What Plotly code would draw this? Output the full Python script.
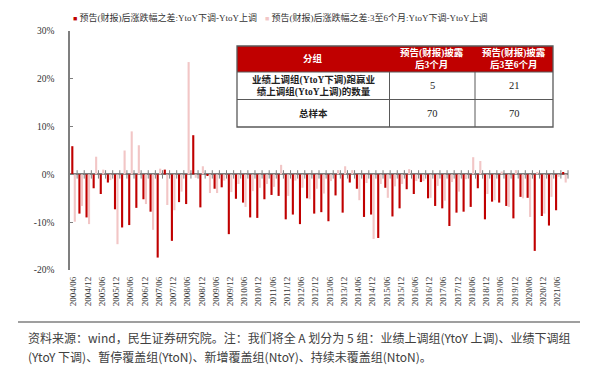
import plotly.graph_objects as go

# ---------------- data ----------------
quarters = [
    "2004/06", "2004/09", "2004/12", "2005/03", "2005/06", "2005/09", "2005/12", "2006/03",
    "2006/06", "2006/09", "2006/12", "2007/03", "2007/06", "2007/09", "2007/12", "2008/03",
    "2008/06", "2008/09", "2008/12", "2009/03", "2009/06", "2009/09", "2009/12", "2010/03",
    "2010/06", "2010/09", "2010/12", "2011/03", "2011/06", "2011/09", "2011/12", "2012/03",
    "2012/06", "2012/09", "2012/12", "2013/03", "2013/06", "2013/09", "2013/12", "2014/03",
    "2014/06", "2014/09", "2014/12", "2015/03", "2015/06", "2015/09", "2015/12", "2016/03",
    "2016/06", "2016/09", "2016/12", "2017/03", "2017/06", "2017/09", "2017/12", "2018/03",
    "2018/06", "2018/09", "2018/12", "2019/03", "2019/06", "2019/09", "2019/12", "2020/03",
    "2020/06", "2020/09", "2020/12", "2021/03", "2021/06", "2021/09",
]

# 预告(财报)后涨跌幅之差:YtoY下调-YtoY上调  (%)
diff_3m = [
    5.9, -8.2, -9.0, -2.9, -4.1, -1.7, -7.3, -11.1, -10.6, -7.0,
    -5.2, -7.8, -17.4, 1.0, -13.9, -5.8, -6.2, 8.2, -6.9, -0.2,
    -3.0, -2.7, -12.5, -5.1, -5.9, -9.0, -9.1, -5.2, -4.3, -4.5,
    -9.4, -8.4, -10.4, -5.0, -8.2, -7.9, -9.8, -4.4, -8.0, -1.7,
    -3.0, -8.9, -8.4, -13.3, -2.8, -8.8, -7.1, -3.1, -4.1, -1.6,
    -5.0, -6.6, -7.1, -10.8, -8.0, -7.8, -6.8, -2.9, -9.4, -5.7,
    -5.9, -6.6, -9.2, -4.7, -4.9, -16.0, -8.7, -10.7, -7.5, 0.5,
]

# 预告(财报)后涨跌幅之差:3至6个月:YtoY下调-YtoY上调  (%)
diff_3to6m = [
    -9.9, -6.6, -10.4, 3.7, 1.0, -1.2, -14.6, 5.0, 9.0, 6.1,
    -6.2, -11.6, 1.2, -6.4, -7.5, -3.6, 23.5, -0.7, 1.7, -3.9,
    -3.9, -1.3, -3.7, -2.0, -6.8, -3.5, -2.8, -2.0, -2.6, 2.0,
    -4.5, -1.3, -2.8, -5.2, -3.0, -4.0, -1.4, 0.9, 1.7, 0.9,
    -5.4, -1.8, -13.5, -2.0, -4.9, -2.5, -2.0, 1.1, -1.4, -1.4,
    -4.9, -2.4, -5.5, -1.6, -3.6, -1.0, 3.6, 2.8, -4.1, -5.4,
    0.6, -6.8, 0.9, -5.0, -8.9, 0.5, -8.2, -4.7, -0.5, -1.7,
]

series_names = [
    "预告(财报)后涨跌幅之差:YtoY下调-YtoY上调",
    "预告(财报)后涨跌幅之差:3至6个月:YtoY下调-YtoY上调",
]

y_tickvals = [-20, -10, 0, 10, 20, 30]
y_ticktext = ["-20%", "-10%", "0%", "10%", "20%", "30%"]

table_header = ["分组", "预告(财报)披露<br>后3个月", "预告(财报)披露<br>后3至6个月"]
table_rows = [
    ["业绩上调组(YtoY下调)跑赢业<br>绩上调组(YtoY上调)的数量", "5", "21"],
    ["总样本", "70", "70"],
]

source_lines = [
    "资料来源：wind，民生证券研究院。注：我们将全 A 划分为 5 组：业绩上调组(YtoY 上调)、业绩下调组",
    "(YtoY 下调)、暂停覆盖组(YtoN)、新增覆盖组(NtoY)、持续未覆盖组(NtoN)。",
]

# ---------------- style ----------------
DARK = "#C00000"
LIGHT = "#F2C6C6"
AXIS = "#7F7F7F"
SERIF = "Liberation Serif, Times New Roman, Noto Sans CJK SC, serif"
SANS = "Noto Sans CJK SC, Noto Sans, sans-serif"

W, H = 597, 376
L, R, T, B = 70, 29, 31, 106
PW, PH = W - L - R, H - T - B


def fx(px):
    return (px - L) / PW


def fy(py):
    return (H - B - py) / PH


x_idx = list(range(len(quarters)))

fig = go.Figure()
fig.add_bar(x=x_idx, y=diff_3m, name=series_names[0], marker_color=DARK,
            marker_line_width=0, showlegend=False)
fig.add_bar(x=x_idx, y=diff_3to6m, name=series_names[1], marker_color=LIGHT,
            marker_line_width=0, showlegend=False)

# category boundary tick marks on the zero line
bounds = [i + 0.5 for i in x_idx]
fig.add_scatter(x=bounds, y=[0] * len(bounds), mode="markers",
                marker=dict(symbol="line-ns", size=6, line=dict(width=1, color=AXIS)),
                showlegend=False, hoverinfo="skip", cliponaxis=False)

fig.update_layout(
    width=W, height=H,
    margin=dict(l=L, r=R, t=T, b=B),
    paper_bgcolor="white", plot_bgcolor="white",
    barmode="group", bargap=0.3, bargroupgap=0.15,
    showlegend=False,
    font=dict(family=SERIF, size=9, color="#333333"),
    xaxis=dict(range=[-0.5, len(quarters) - 0.5], tickmode="array",
               tickvals=x_idx[::2], ticktext=quarters[::2], tickangle=-90,
               showline=False, showgrid=False, zeroline=False, ticks="",
               tickfont=dict(size=9, family=SERIF, color="#333333"),
               ticklabelstandoff=4),
    yaxis=dict(range=[-20, 30], tickmode="array", tickvals=y_tickvals, ticktext=y_ticktext,
               showline=True, linecolor=AXIS, linewidth=1.5,
               ticks="inside", ticklen=3, tickcolor=AXIS, tickwidth=1,
               showgrid=False, zeroline=True, zerolinecolor=AXIS, zerolinewidth=1.5,
               tickfont=dict(size=9.5, family=SERIF, color="#333333"),
               ticklabelstandoff=12),
)

ann = []
shapes = []

# legend (drawn as text)
legend_pos = [(71, 18), (263, 18)]
for name, col, (lx, ly) in zip(series_names, [DARK, LIGHT], legend_pos):
    ann.append(dict(xref="paper", yref="paper", x=fx(lx), y=fy(ly), xanchor="left",
                    yanchor="middle", showarrow=False,
                    text=f'<span style="color:{col};font-size:7px">■</span> {name}',
                    font=dict(family=SERIF, size=9, color="#333333")))

# table
tx = [237, 389.5, 475, 553]
ty = [46, 72, 99.5, 127]
shapes.append(dict(type="rect", xref="paper", yref="paper", x0=fx(tx[0]), x1=fx(tx[3]),
                   y0=fy(ty[0]), y1=fy(ty[1]), fillcolor=DARK, line=dict(width=0)))
shapes.append(dict(type="rect", xref="paper", yref="paper", x0=fx(tx[0]), x1=fx(tx[3]),
                   y0=fy(ty[1]), y1=fy(ty[3]), fillcolor="white", line=dict(width=0)))
for yy in [ty[1], ty[2]]:
    shapes.append(dict(type="line", xref="paper", yref="paper", x0=fx(tx[0]), x1=fx(tx[3]),
                       y0=fy(yy), y1=fy(yy), line=dict(color="#595959", width=1)))
for xx in [tx[1], tx[2]]:
    shapes.append(dict(type="line", xref="paper", yref="paper", x0=fx(xx), x1=fx(xx),
                       y0=fy(ty[1]), y1=fy(ty[3]), line=dict(color="#595959", width=1)))
shapes.append(dict(type="rect", xref="paper", yref="paper", x0=fx(tx[0]), x1=fx(tx[3]),
                   y0=fy(ty[0]), y1=fy(ty[3]), line=dict(color="#595959", width=1.3)))

for c, txt in enumerate(table_header):
    ann.append(dict(xref="paper", yref="paper", x=fx((tx[c] + tx[c + 1]) / 2),
                    y=fy((ty[0] + ty[1]) / 2), xanchor="center", yanchor="middle",
                    showarrow=False, text=f"<b>{txt}</b>",
                    font=dict(family=SERIF, size=9.5, color="white")))
for r, row in enumerate(table_rows):
    for c, txt in enumerate(row):
        t = f"<b>{txt}</b>" if c == 0 else txt
        ann.append(dict(xref="paper", yref="paper", x=fx((tx[c] + tx[c + 1]) / 2),
                        y=fy((ty[r + 1] + ty[r + 2]) / 2), xanchor="center", yanchor="middle",
                        showarrow=False, text=t,
                        font=dict(family=SERIF, size=9.5 if c == 0 else 10.5, color="#222222")))

# source note
shapes.append(dict(type="line", xref="paper", yref="paper", x0=fx(18), x1=fx(580),
                   y0=fy(322), y1=fy(322), line=dict(color="#7F7F7F", width=1.5)))
for line, yy in zip(source_lines, [337, 356]):
    ann.append(dict(xref="paper", yref="paper", x=fx(26), y=fy(yy), xanchor="left",
                    yanchor="middle", showarrow=False, text=line,
                    font=dict(family=SANS, size=12, color="#404040")))

fig.update_layout(annotations=ann, shapes=shapes)
fig.write_html("out.html", config={"displayModeBar": False},
               post_script="document.body.style.margin='0px';")
